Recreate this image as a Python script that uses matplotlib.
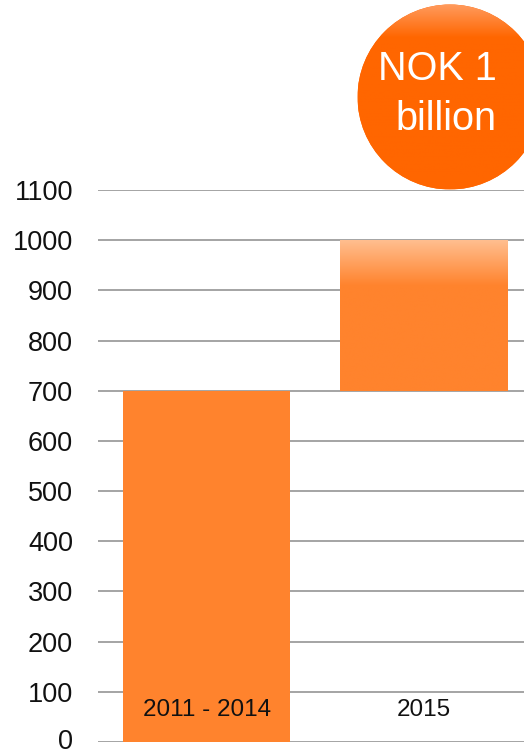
import numpy as np
import matplotlib
matplotlib.use("Agg")
import matplotlib.pyplot as plt
import matplotlib.transforms as mtransforms
from matplotlib.patches import Circle
from matplotlib.colors import LinearSegmentedColormap

plt.rcParams['font.family'] = ['Liberation Sans', 'DejaVu Sans']

categories = ["2011 - 2014", "2015"]
bar_bottoms = [0, 700]
bar_values = [700, 300]
y_ticks = [0, 100, 200, 300, 400, 500, 600, 700, 800, 900, 1000, 1100]
badge_lines = ["NOK 1", "billion"]

W, H = 524, 752
fig = plt.figure(figsize=(W / 100, H / 100), dpi=100)
ax = fig.add_axes([98 / W, 10 / H, 1 - 98 / W, (742 - 190) / H])

orange = "#FF832D"
x = np.arange(len(categories))
bars = ax.bar(x, bar_values, bottom=bar_bottoms, width=0.77, color=orange,
              zorder=2, linewidth=0)

# soft light-to-orange fade across the top of the 2015 bar
top_bar = bars[1]
bx, by = top_bar.get_x(), top_bar.get_y()
bw, bh = top_bar.get_width(), top_bar.get_height()
fade = LinearSegmentedColormap.from_list(
    "fade", [(0.0, orange), (0.70, orange), (1.0, "#FFBE8F")])
grad = np.linspace(0, 1, 256).reshape(-1, 1)
im = ax.imshow(grad, cmap=fade, origin="lower", aspect="auto",
               extent=[bx, bx + bw, by, by + bh], zorder=3,
               interpolation="bicubic")
im.set_clip_path(top_bar)

ax.set_xlim(-0.5, 1.46)
ax.set_ylim(0, 1100)
ax.set_yticks(y_ticks)
ax.set_yticklabels([str(v) for v in y_ticks], fontsize=19.5, color="#111111")
ax.tick_params(axis="y", length=0, pad=18)
ax.set_xticks([])
ax.yaxis.grid(True, color="#8C8C8C", linewidth=1.1, zorder=1)
ax.set_axisbelow(True)
for s in ax.spines.values():
    s.set_visible(False)

# nudge the bottom label so it stays inside the canvas
zero_label = ax.get_yticklabels()[0]
zero_label.set_transform(zero_label.get_transform() +
                         mtransforms.ScaledTranslation(0, 2 / 72, fig.dpi_scale_trans))

for xi, name in zip(x, categories):
    ax.text(xi, 0.058, name, transform=ax.get_xaxis_transform(),
            ha="center", va="center", fontsize=17.5, color="#111111", zorder=5)

# round badge in the upper right corner, in pixel coordinates
ov = fig.add_axes([0, 0, 1, 1], zorder=10)
ov.set_xlim(0, W)
ov.set_ylim(H, 0)
ov.axis("off")
ov.patch.set_alpha(0)
cx, cy, r = 450, 97, 92.5
circ = Circle((cx, cy), r, facecolor="#FF6600", edgecolor="none")
ov.add_patch(circ)
cgrad = LinearSegmentedColormap.from_list(
    "cfade", [(0.0, "#FF6600"), (0.82, "#FF6600"), (1.0, "#FF9B5E")])
cim = ov.imshow(np.linspace(0, 1, 256).reshape(-1, 1), cmap=cgrad,
                origin="lower", aspect="auto",
                extent=[cx - r, cx + r, cy + r, cy - r], zorder=2)
cim.set_clip_path(circ)
ov.set_xlim(0, W)
ov.set_ylim(H, 0)
ov.text(437, 69, badge_lines[0], ha="center", va="center", fontsize=28.5,
        color="white", zorder=3)
ov.text(446, 119, badge_lines[1], ha="center", va="center", fontsize=28.5,
        color="white", zorder=3)

fig.savefig("out.png", dpi=100)
